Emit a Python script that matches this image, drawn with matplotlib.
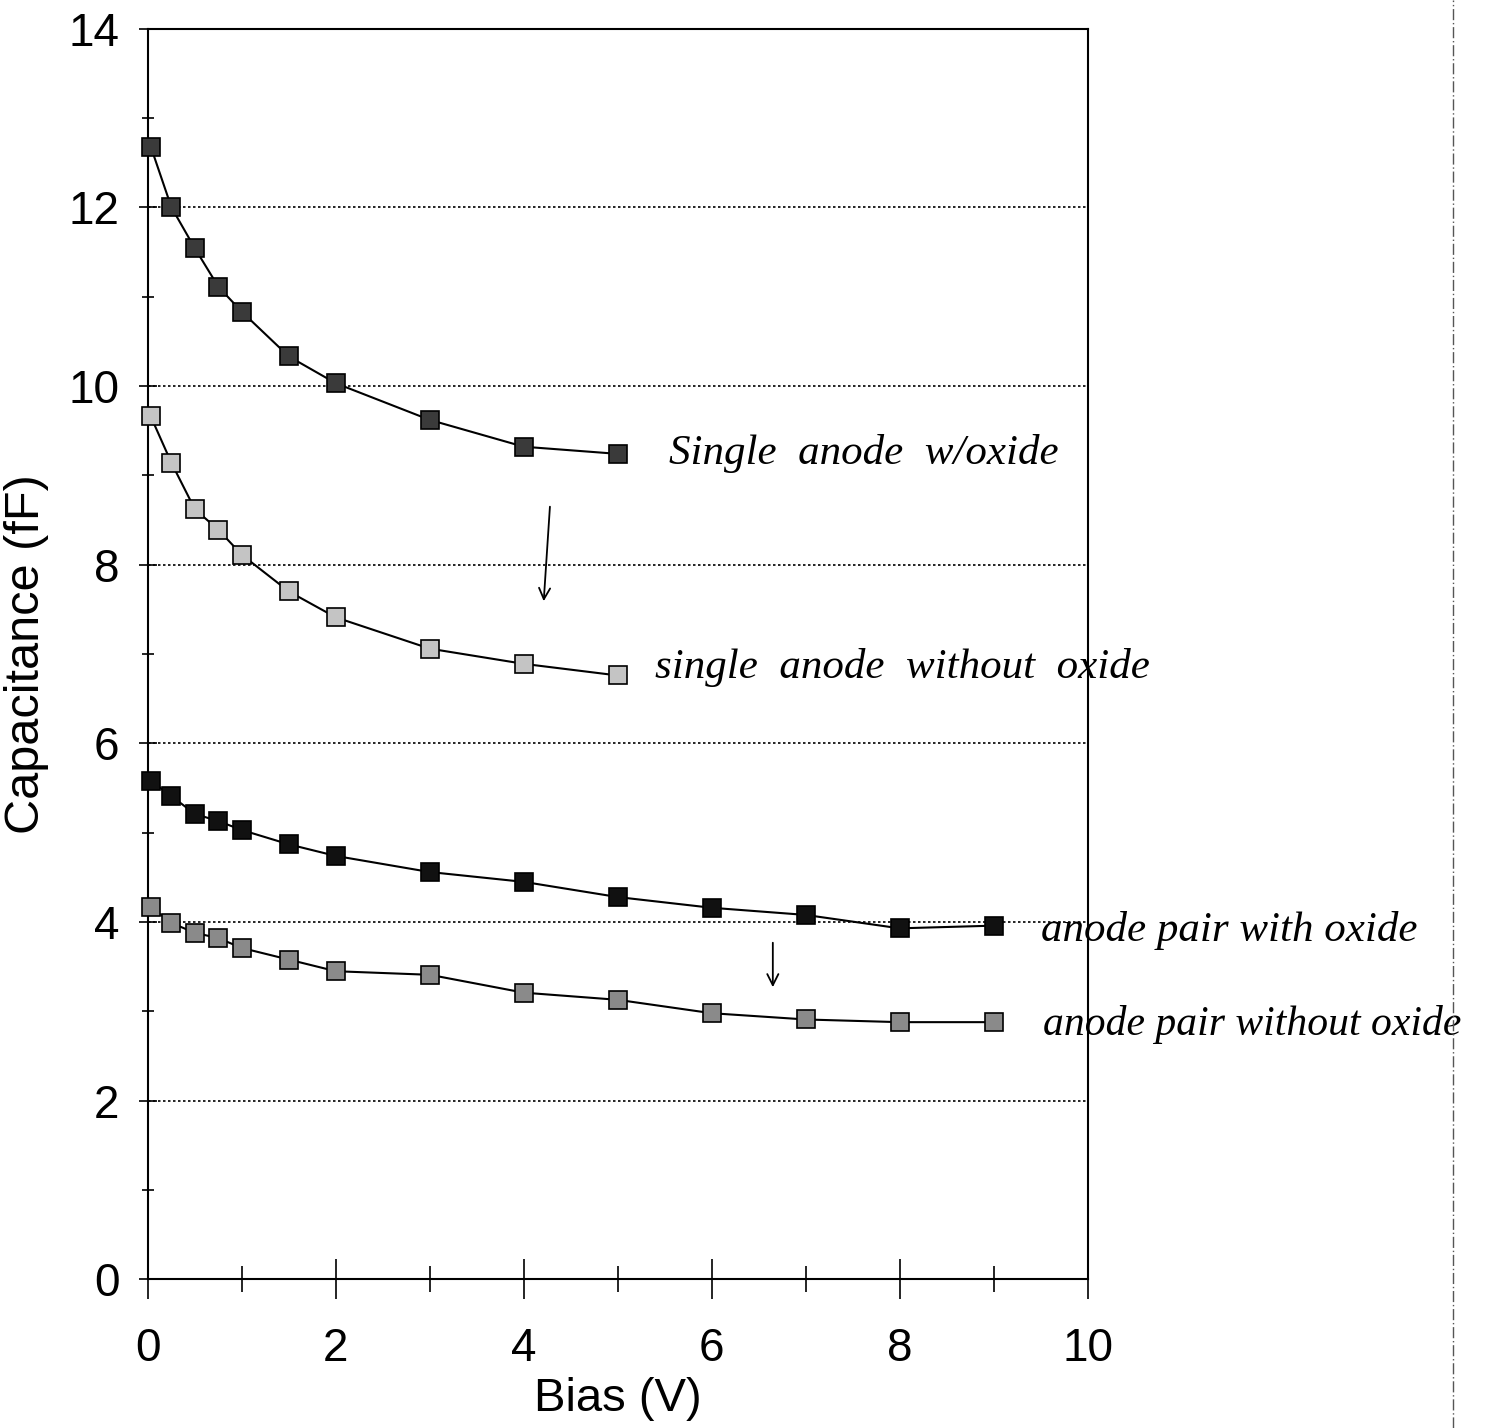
import matplotlib.pyplot as plt
from matplotlib.lines import Line2D

plt.rcParams['font.family'] = ['Liberation Sans', 'DejaVu Sans']

# bias points (V)
bias_single = [0.03, 0.25, 0.5, 0.75, 1, 1.5, 2, 3, 4, 5]
bias_pair = [0.03, 0.25, 0.5, 0.75, 1, 1.5, 2, 3, 4, 5, 6, 7, 8, 9]

# capacitance (fF)
single_with_oxide = [12.68, 12.0, 11.54, 11.11, 10.83, 10.33, 10.03, 9.62, 9.32, 9.24]
single_without_oxide = [9.66, 9.14, 8.62, 8.39, 8.11, 7.70, 7.41, 7.06, 6.89, 6.76]
pair_with_oxide = [5.58, 5.41, 5.21, 5.13, 5.03, 4.87, 4.74, 4.56, 4.45, 4.28, 4.16, 4.08, 3.93, 3.96]
pair_without_oxide = [4.17, 3.99, 3.88, 3.82, 3.71, 3.58, 3.45, 3.41, 3.21, 3.13, 2.98, 2.91, 2.88, 2.88]

labels = ['Single  anode  w/oxide', 'single  anode  without  oxide',
          'anode pair with oxide', 'anode pair without oxide']

fig = plt.figure(figsize=(14.94, 14.28), dpi=100)
ax = fig.add_axes([0.099, 0.104, 0.629, 0.876])

series = [
    (bias_single, single_with_oxide, '#3a3a3a'),
    (bias_single, single_without_oxide, '#c4c4c4'),
    (bias_pair, pair_with_oxide, '#111111'),
    (bias_pair, pair_without_oxide, '#8a8a8a'),
]
for xs, ys, c in series:
    ax.plot(xs, ys, color='black', lw=1.5, marker='s', markersize=13,
            markerfacecolor=c, markeredgecolor='black', markeredgewidth=1.2, clip_on=False, zorder=3)

ax.set_xlim(0, 10)
ax.set_ylim(0, 14)
ax.set_xticks(range(0, 11, 2))
ax.set_xticks(range(1, 10, 2), minor=True)
ax.set_yticks(range(0, 15, 2))
ax.set_yticks(range(1, 14, 2), minor=True)
ax.tick_params(axis='both', which='major', direction='inout', labelsize=33, width=1.2)
ax.tick_params(axis='x', which='major', length=29, pad=20)
ax.tick_params(axis='x', which='minor', direction='inout', length=19, width=1.2)
ax.tick_params(axis='y', which='major', length=13, pad=14)
ax.tick_params(axis='y', which='minor', direction='inout', length=8, width=1.2)
for s in ax.spines.values():
    s.set_linewidth(1.5)
for g in [2, 4, 6, 8, 10, 12]:
    ax.axhline(g, color='black', lw=1.2, ls=(0, (1.5, 1.5)), zorder=1)

ax.set_xlabel('Bias (V)', fontsize=34, labelpad=4)
ax.set_ylabel('Capacitance (fF)', fontsize=35, labelpad=14)

# handwritten annotations
text_pos = [(5.54, 9.24), (5.4, 6.85), (9.5, 3.91), (9.53, 2.85)]
text_size = [31, 31, 31, 30]
for (tx, ty), lab, fs in zip(text_pos, labels, text_size):
    ax.text(tx, ty, lab, fontsize=fs, style='italic', family='Liberation Serif',
            va='center', ha='left', clip_on=False)

ax.annotate('', xy=(4.21, 7.56), xytext=(4.28, 8.68),
            arrowprops=dict(arrowstyle='->', lw=1.3, color='black', mutation_scale=20))
ax.annotate('', xy=(6.65, 3.24), xytext=(6.65, 3.8),
            arrowprops=dict(arrowstyle='->', lw=1.3, color='black', mutation_scale=20))

# page edge line of the scan
fig.add_artist(Line2D([0.9725, 0.9725], [0.0, 1.0], color='#555555', lw=1,
                      ls=(0, (8, 2, 1, 2)), transform=fig.transFigure))

fig.savefig('out.png', dpi=100)
